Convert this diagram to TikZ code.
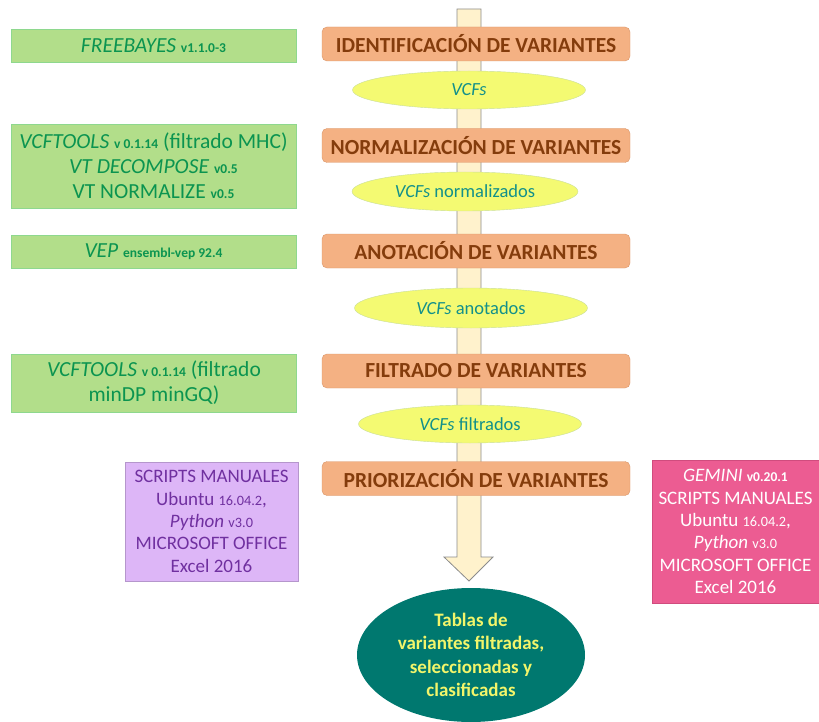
\documentclass[tikz,border=0pt]{standalone}
\usepackage{fontspec}
\setmainfont{Carlito}
\usetikzlibrary{shapes.geometric, calc}
\definecolor{stagefill}{HTML}{F4B183}
\definecolor{stageline}{HTML}{D9966A}
\definecolor{stagetext}{HTML}{843C0C}
\definecolor{datafill} {HTML}{F4FA72}
\definecolor{dataline} {HTML}{C9DE9A}
\definecolor{datatext} {HTML}{12908A}
\definecolor{toolfill} {HTML}{B2DE8A}
\definecolor{toolline} {HTML}{8ED88E}
\definecolor{tooltext} {HTML}{0B9450}
\definecolor{lilacfill}{HTML}{DDB6F7}
\definecolor{lilacline}{HTML}{B596CC}
\definecolor{lilactext}{HTML}{7030A0}
\definecolor{pinkfill} {HTML}{EC5C92}
\definecolor{pinkline} {HTML}{D04C7E}
\definecolor{tealfill} {HTML}{00786F}
\definecolor{tealtext} {HTML}{F2F56A}
\definecolor{shaftfill}{HTML}{FFF2CC}
\definecolor{shaftline}{HTML}{8C8C8C}
\newcommand{\vers}[1]{{\fontsize{13.5}{16}\selectfont\bfseries #1}}
\newcommand{\versl}[1]{{\fontsize{14.3}{16}\selectfont #1}}

\begin{document}
\begin{tikzpicture}[x=1pt, y=-1pt,
    stage/.style={rectangle, rounded corners=5pt, minimum width=308pt, minimum height=34pt,
                  inner sep=0pt, draw=stageline, fill=stagefill, text=stagetext,
                  font=\fontsize{21.5}{24}\selectfont\bfseries},
    data/.style={ellipse, minimum width=230pt, minimum height=38pt, inner sep=0pt,
                 draw=dataline, fill=datafill, text=datatext, font=\fontsize{18.5}{20}\selectfont},
    tool/.style={rectangle, minimum width=285pt, inner sep=0pt, align=center,
                 draw=toolline, line width=0.8pt, fill=toolfill, text=tooltext,
                 font=\fontsize{21.5}{25}\selectfont},
    scripts/.style={rectangle, inner sep=0pt, align=center,
                    font=\fontsize{19}{22.3}\selectfont},
    bigarrow/.style={draw=shaftline, fill=shaftfill, line width=0.8pt, line join=miter}
  ]
    \useasboundingbox (0,0) rectangle (819,722);

    % main flow arrow behind everything
    \coordinate (top) at (469,9);
    \coordinate (tip) at (469,581);
    \draw[bigarrow] ($(top)+(-12,0)$) -- ($(top)+(12,0)$) -- ($(tip)+(12,-24)$)
      -- ($(tip)+(24,-24)$) -- (tip) -- ($(tip)+(-25,-24)$) -- ($(tip)+(-12,-24)$) -- cycle;

    % stages
    \node[stage] (ident) at (476,44)    {IDENTIFICACIÓN DE VARIANTES};
    \node[stage] (norm)  at (476,145.5) {NORMALIZACIÓN DE VARIANTES};
    \node[stage] (anot)  at (476,251)   {ANOTACIÓN DE VARIANTES};
    \node[stage] (filt)  at (476,371)   {FILTRADO DE VARIANTES};
    \node[stage] (prior) at (476,478.5) {PRIORIZACIÓN DE VARIANTES};

    % intermediate files
    \node[data, minimum width=233pt] (vcf)     at (469,90)    {\textit{VCFs}};
    \node[data, minimum width=226pt, minimum height=39pt] (vcfnorm) at (465,191.5) {\textit{VCFs} normalizados};
    \node[data, minimum width=233pt, minimum height=40pt] (vcfanot) at (471,308) {\textit{VCFs} anotados};
    \node[data, minimum width=223pt] (vcffilt) at (470,424)   {\textit{VCFs} filtrados};

    % tools
    \node[tool, minimum height=33pt] (freebayes) at (153.5,45.5)
      {\textit{FREEBAYES} \vers{v1.1.0-3}};
    \node[tool, minimum height=84pt] (vcftools) at (153.5,166)
      {\textit{VCFTOOLS} \vers{v 0.1.14} (filtrado MHC)\\
       \textit{VT DECOMPOSE} \vers{v0.5}\\
       VT NORMALIZE \vers{v0.5}};
    \node[tool, minimum height=33pt] (vep) at (153.5,251.5)
      {\textit{VEP} \vers{ensembl-vep 92.4}};
    \node[tool, minimum height=58pt] (vcffilter) at (154,383)
      {\textit{VCFTOOLS} \vers{v 0.1.14} (filtrado\\ minDP minGQ)};

    % prioritisation helpers
    \node[scripts, minimum width=173pt, minimum height=119pt, draw=lilacline,
          fill=lilacfill, text=lilactext] (manual) at (211.5,521.5)
      {SCRIPTS MANUALES\\ Ubuntu \versl{16.04.2},\\ \textit{Python} \versl{v3.0}\\
       MICROSOFT OFFICE\\ Excel 2016};
    \node[scripts, minimum width=167pt, minimum height=143pt, draw=pinkline,
          fill=pinkfill, text=white] (gemini) at (735.5,531.5)
      {\textit{GEMINI} \vers{v0.20.1}\\ SCRIPTS MANUALES\\ Ubuntu \versl{16.04.2},\\
       \textit{Python} \versl{v3.0}\\ MICROSOFT OFFICE\\ Excel 2016};

    % result
    \node[ellipse, minimum width=228pt, minimum height=134pt, inner sep=0pt,
          fill=tealfill, text=tealtext, align=center,
          font=\fontsize{19}{23.3}\selectfont\bfseries] (tablas) at (471,655)
      {Tablas de\\ variantes filtradas,\\ seleccionadas y\\ clasificadas};
  \end{tikzpicture}
\end{document}
